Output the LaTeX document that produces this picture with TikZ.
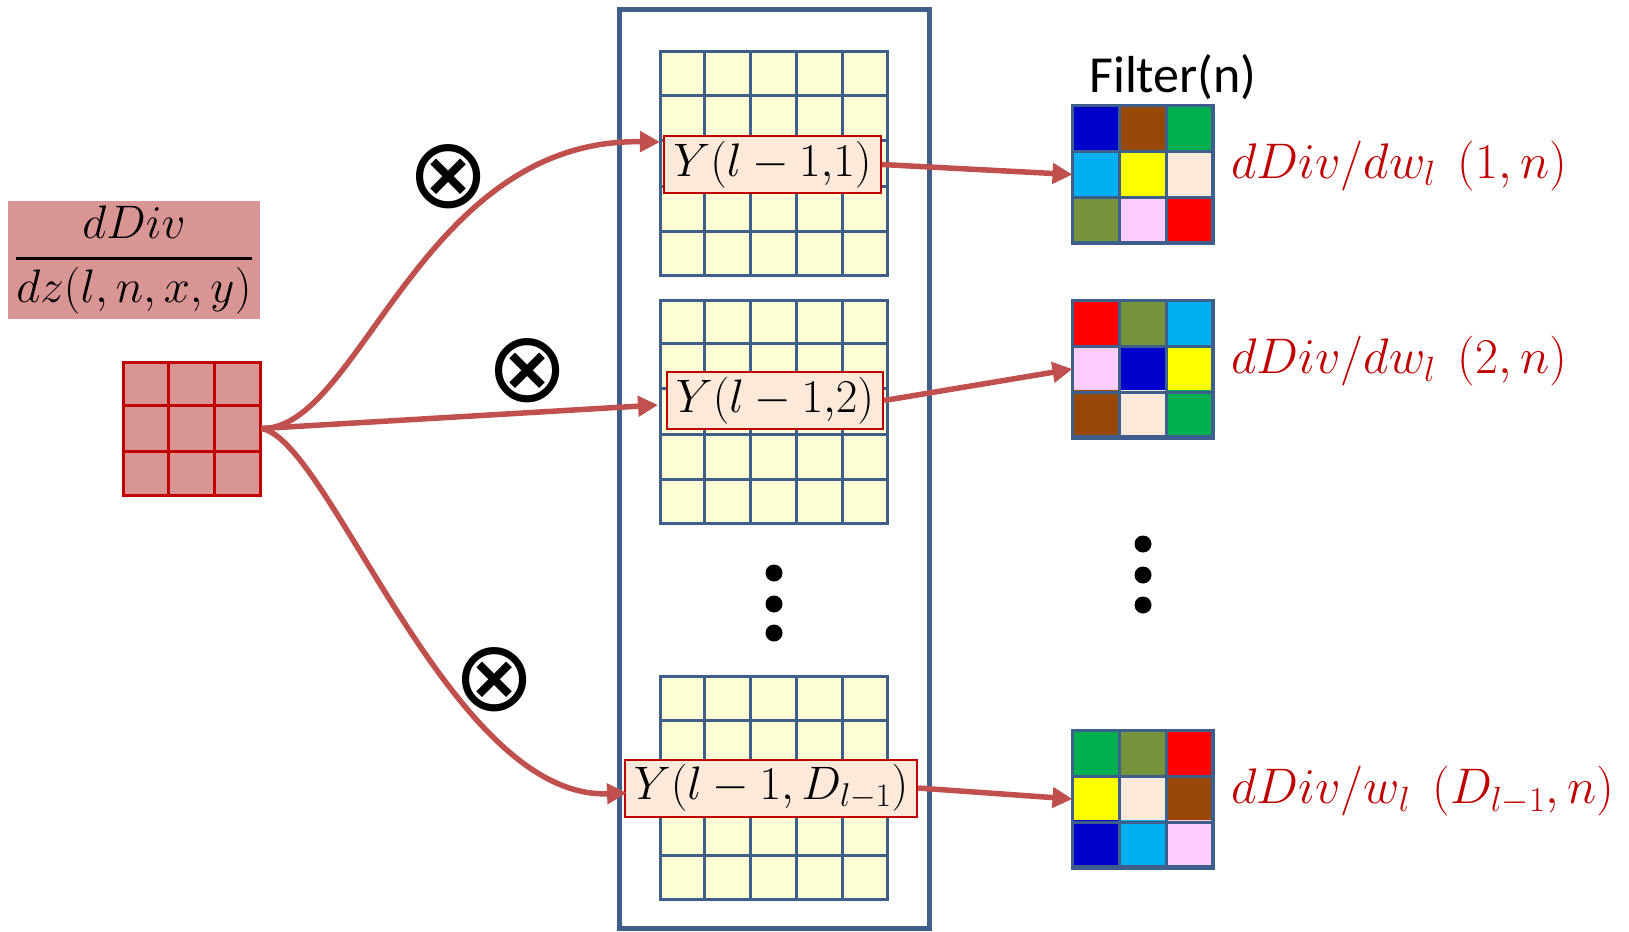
\RequirePackage{fix-cm}
\documentclass[tikz,border=0pt]{standalone}
\usepackage{fontspec}
\newfontfamily\calib{Carlito}
\newfontfamily\dejavu{DejaVu Sans}
\usetikzlibrary{arrows.meta,calc}
\definecolor{gridblue}{RGB}{62,94,140}
\definecolor{cellyellow}{HTML}{FFFFD5}
\definecolor{peach}{HTML}{FDE9D9}
\definecolor{darkred}{HTML}{C00000}
\definecolor{arrred}{HTML}{C0504D}
\definecolor{pinkfill}{HTML}{D99594}
\definecolor{cblue}{HTML}{0000CC}
\definecolor{cbrown}{HTML}{974706}
\definecolor{cgreen}{HTML}{00B050}
\definecolor{ccyan}{HTML}{00B0F0}
\definecolor{cyellow}{HTML}{FFFF00}
\definecolor{colive}{HTML}{77933C}
\definecolor{cpink}{HTML}{FFCCFF}
\definecolor{cred}{HTML}{FF0000}
\tikzset{
  ygrid/.style={draw=gridblue, fill=cellyellow, line width=3pt, minimum width=227pt, minimum height=223pt, inner sep=0pt},
  gline/.style={draw=gridblue, line width=3pt},
  fgrid/.style={draw=gridblue, line width=3pt, minimum width=138pt, minimum height=135pt, inner sep=0pt},
  rgrid/.style={draw=darkred, fill=pinkfill, line width=3pt, minimum width=137pt, minimum height=133pt, inner sep=0pt},
  rline/.style={draw=darkred, line width=3pt},
  ylabel/.style={draw=darkred, fill=peach, line width=2pt, inner xsep=9pt, inner ysep=4pt, minimum height=57pt, font=\fontsize{47}{56}\selectfont},
  wlabel/.style={anchor=west, inner sep=0pt, text=darkred, font=\fontsize{50}{58}\selectfont},
  otimesnode/.style={inner sep=0pt, font=\dejavu\fontsize{98}{110}\selectfont},
  dotnode/.style={circle, fill=black, inner sep=0pt, minimum size=17pt},
  arr/.style={draw=arrred, line width=5.5pt, -{Triangle[length=20pt,width=20pt]}},
}
\begin{document}
\begin{tikzpicture}[x=1pt,y=-1pt]
\useasboundingbox (0,0) rectangle (1629,931);
% big blue frame
\node[draw=gridblue, line width=5pt, minimum width=310pt, minimum height=918pt, inner sep=0pt] (B) at (774,469) {};
% yellow grids
\node[ygrid] (Y1) at (773.5,163.5) {};
\node[ygrid] (Y2) at (773.5,411.5) {};
\node[ygrid] (Y3) at (773.5,788) {};
\foreach \g in {Y1,Y2,Y3}{
  \foreach \i in {1,...,4}{
    \draw[gline] ($(\g.north west)!\i/5!(\g.north east)$) -- ($(\g.south west)!\i/5!(\g.south east)$);
    \draw[gline] ($(\g.north west)!\i/5!(\g.south west)$) -- ($(\g.north east)!\i/5!(\g.south east)$);
  }
}
% dots in the middle
\node[dotnode] (m1) at (774,573) {};
\node[dotnode] (m2) at (774,604) {};
\node[dotnode] (m3) at (774,633) {};
% dots on the right
\node[dotnode] (r1) at (1143,544) {};
\node[dotnode] (r2) at (1143,575) {};
\node[dotnode] (r3) at (1143,605) {};
% dDiv box
\node[fill=pinkfill, minimum width=252pt, minimum height=118pt, inner sep=0pt, font=\fontsize{47}{56}\selectfont] (D) at (134,260) {$\displaystyle{dDiv \above 2.5pt dz(l,n,x,y)}$};
% red grid
\node[rgrid] (R) at (191.5,428.5) {};
\foreach \i in {1,2}{
  \draw[rline] ($(R.north west)!\i/3!(R.north east)$) -- ($(R.south west)!\i/3!(R.south east)$);
  \draw[rline] ($(R.north west)!\i/3!(R.south west)$) -- ($(R.north east)!\i/3!(R.south east)$);
}
% filter grids
\node[fgrid] (F1) at (1143,174.5) {};
\node[fgrid] (F2) at (1143,369) {};
\node[fgrid] (F3) at (1143,799) {};
\foreach \g/\cols in {F1/{cblue,cbrown,cgreen,ccyan,cyellow,peach,colive,cpink,cred},
                      F2/{cred,colive,ccyan,cpink,cblue,cyellow,cbrown,peach,cgreen},
                      F3/{cgreen,colive,cred,cyellow,peach,cbrown,cblue,ccyan,cpink}}{
  \foreach \c [count=\k from 0] in \cols {
    \pgfmathtruncatemacro{\r}{int(\k/3)}
    \pgfmathtruncatemacro{\cc}{mod(\k,3)}
    \fill[\c] ($(\g.north west)+(46*\cc,45*\r)$) rectangle +(46,45);
  }
  \foreach \i in {1,2}{
    \draw[gline] ($(\g.north west)!\i/3!(\g.north east)$) -- ($(\g.south west)!\i/3!(\g.south east)$);
    \draw[gline] ($(\g.north west)!\i/3!(\g.south west)$) -- ($(\g.north east)!\i/3!(\g.south east)$);
  }
  \draw[gline] (\g.north west) rectangle (\g.south east);
}
\node[anchor=base, inner sep=0pt, font=\calib\fontsize{52}{60}\selectfont] (FT) at (1173,93) {Filter(n)};
% Y labels
\node[ylabel] (L1) at (772.5,164.5) {$Y(l-1{,}1)$};
\node[ylabel] (L2) at (775,400.5) {$Y(l-1{,}2)$};
\node[ylabel] (L3) at (771,788) {$Y(l-1,D_{l-1})$};
% right labels
\node[wlabel] (W1) at (1231,166) {$dDiv/dw_l\;\,(1,n)$};
\node[wlabel] (W2) at (1231,361) {$dDiv/dw_l\;\,(2,n)$};
\node[wlabel] (W3) at (1231,791) {$dDiv/w_l\;\,(D_{l-1},n)$};
% otimes
\node[otimesnode] (O1) at (449,177) {⊗};
\node[otimesnode] (O2) at (528,371) {⊗};
\node[otimesnode] (O3) at (495,680) {⊗};
% arrow tips
\coordinate (t1) at (660,142);
\coordinate (t2) at (658,405);
\coordinate (t3) at (627,793);
\draw[arr] (R.east) .. controls (360,430) and (420,138) .. (t1);
\draw[arr] (R.east) -- (t2);
\draw[arr] (R.east) .. controls (330,440) and (450,800) .. (t3);
\draw[arr] (L1.east) -- (F1.west);
\draw[arr] (L2.east) -- (F2.west);
\draw[arr] (L3.east) -- (F3.west);
\end{tikzpicture}
\end{document}
